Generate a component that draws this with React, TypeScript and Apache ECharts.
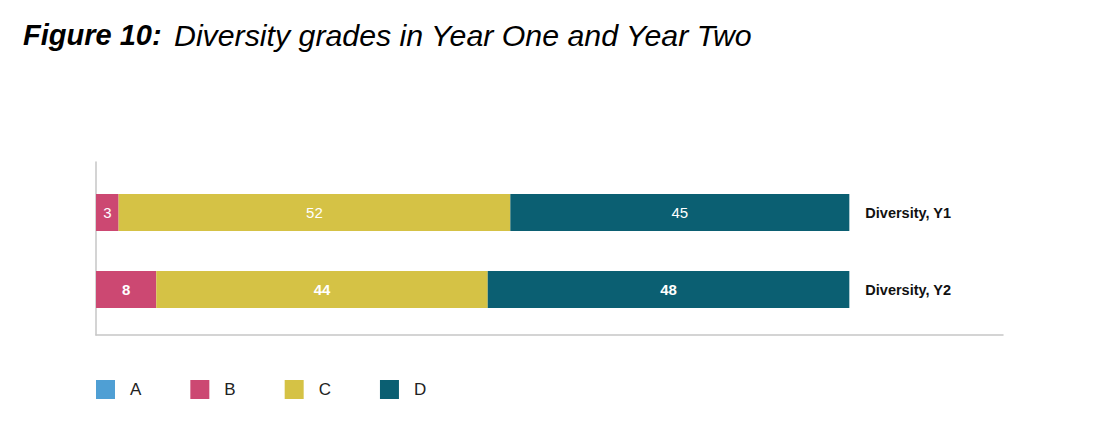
import React, { useEffect, useRef } from "react";
import * as echarts from "echarts";

const categories = ["Diversity, Y1", "Diversity, Y2"];
const gradeNames = ["A", "B", "C", "D"];
const gradeA = [0, 0];
const gradeB = [3, 8];
const gradeC = [52, 44];
const gradeD = [45, 48];
const boldRow = [false, true];
const colors = ["#4f9fd4", "#cc4872", "#d5c245", "#0b5f72"];

export default function App() {
  const ref = useRef<HTMLDivElement>(null);
  useEffect(() => {
    if (!ref.current) return;
    const chart = echarts.init(ref.current, null, { renderer: "svg" });
    const font = "'Liberation Sans', Arial, sans-serif";
    const mk = (vals: number[]) =>
      vals.map((v, i) => ({
        value: v,
        label: { fontWeight: boldRow[i] ? "bold" : "normal" },
      }));
    const seriesData = [gradeA, gradeB, gradeC, gradeD];
    const series: any[] = seriesData.map((vals, k) => ({
      name: gradeNames[k],
      type: "bar",
      stack: "total",
      xAxisIndex: 0,
      yAxisIndex: 0,
      barWidth: 37,
      itemStyle: { color: colors[k] },
      label: {
        show: k !== 0,
        position: "inside",
        color: "#ffffff",
        fontSize: 15,
        fontFamily: font,
      },
      data: mk(vals),
    }));
    series.push({
      name: "labels",
      type: "bar",
      stack: "total",
      xAxisIndex: 0,
      yAxisIndex: 0,
      barWidth: 37,
      itemStyle: { color: "transparent" },
      label: {
        show: true,
        position: "right",
        distance: 16,
        formatter: "{b}",
        color: "#111111",
        fontSize: 14.5,
        fontWeight: "bold",
        fontFamily: font,
      },
      data: categories.map(() => 0),
    });
    chart.setOption({
      animation: false,
      backgroundColor: "#ffffff",
      textStyle: { fontFamily: font },
      title: {
        left: 23,
        top: 20,
        padding: 0,
        text: "{b|Figure 10:}{r| Diversity grades in Year One and Year Two}",
        textStyle: {
          fontWeight: "normal",
          rich: {
            b: { fontSize: 29, fontWeight: "bold", fontStyle: "italic", color: "#000", fontFamily: font },
            r: { fontSize: 30.3, fontWeight: "normal", fontStyle: "italic", color: "#000", fontFamily: font, padding: [0, 0, 0, 4] },
          },
        },
      },
      legend: {
        data: gradeNames,
        left: 96,
        top: 380,
        padding: 0,
        itemWidth: 19,
        itemHeight: 19,
        itemGap: 49,
        icon: "rect",
        textStyle: { fontSize: 17, color: "#222222", padding: [0, 0, 0, 10], fontFamily: font },
      },
      grid: [
        { left: 96, right: 94, top: 174, height: 154 },
        { left: 96, right: 91, top: 162, bottom: 107 },
      ],
      xAxis: [
        { type: "value", gridIndex: 0, min: 0, max: 120, show: false },
        {
          type: "value",
          gridIndex: 1,
          min: 0,
          max: 1,
          axisLine: { show: true, onZero: false, lineStyle: { color: "#c6c6c6", width: 1.5 } },
          axisTick: { show: false },
          axisLabel: { show: false },
          splitLine: { show: false },
        },
      ],
      yAxis: [
        { type: "category", gridIndex: 0, data: categories, inverse: true, show: false },
        {
          type: "value",
          gridIndex: 1,
          min: 0,
          max: 1,
          axisLine: { show: true, onZero: false, lineStyle: { color: "#c6c6c6", width: 1.5 } },
          axisTick: { show: false },
          axisLabel: { show: false },
          splitLine: { show: false },
        },
      ],
      series,
    });
    return () => chart.dispose();
  }, []);
  return (
    <div
      ref={ref}
      style={{ position: "fixed", left: 0, top: 0, width: 1094, height: 442 }}
    />
  );
}
